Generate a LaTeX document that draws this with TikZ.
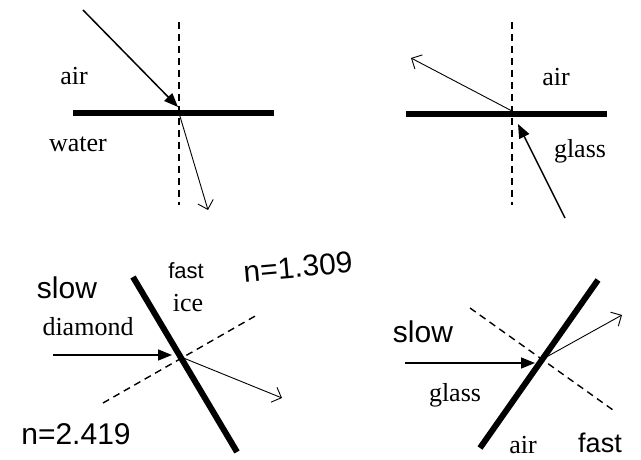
\documentclass[tikz,border=0pt]{standalone}
\usepackage{fontspec}
\setmainfont{Liberation Serif}
\newfontfamily\handfont{Liberation Sans}
\usetikzlibrary{arrows.meta}

\begin{document}
\begin{tikzpicture}[
        x=1pt, y=-1pt,
        every node/.style={font=\fontsize{26}{30}\selectfont, inner sep=0pt},
        hand/.style={font=\handfont\fontsize{30}{32}\selectfont},
        surface/.style={line width=6pt},
        normal/.style={line width=1.4pt, dash pattern=on 7pt off 5pt},
        inray/.style={line width=1.5pt, -{Triangle[length=14pt, width=11pt]}},
        outray/.style={line width=0.9pt, -{Straight Barb[length=8pt, width=16pt]}}
    ]
        \useasboundingbox (0,0) rectangle (641,460);

        % air -> water
        \coordinate (awIn) at (83,10);
        \coordinate (awTip) at (178,107);
        \coordinate (awHit) at (179,113);
        \coordinate (awOut) at (208,210);
        \draw[normal] (179,22) -- (179,205);
        \draw[surface] (73,113) -- (274,113);
        \draw[inray] (awIn) -- (awTip);
        \draw[outray] (awHit) -- (awOut);
        \node (awTop) at (74,76) {air};
        \node (awBot) at (78,144) {water};

        % glass -> air
        \coordinate (gaIn) at (565,218);
        \coordinate (gaTip) at (518,124);
        \coordinate (gaHit) at (512,111);
        \coordinate (gaOut) at (411,58);
        \draw[normal] (512,22) -- (512,205);
        \draw[surface] (406,114) -- (607,114);
        \draw[inray] (gaIn) -- (gaTip);
        \draw[outray] (gaHit) -- (gaOut);
        \node (gaTop) at (556,77) {air};
        \node (gaBot) at (580,151) {glass};

        % diamond -> ice
        \coordinate (diIn) at (53,355);
        \coordinate (diTip) at (172,355);
        \coordinate (diHit) at (181,357);
        \coordinate (diOut) at (282,398);
        \draw[normal] (103,403) -- (257,315);
        \draw[surface] (133,277) -- (237,452);
        \draw[inray] (diIn) -- (diTip);
        \draw[outray] (diHit) -- (diOut);
        \node (diLeft) at (88,327) {diamond};
        \node (diRight) at (188,303) {ice};
        \node[hand] (diSlow) at (67,288) {slow};
        \node[hand, font=\handfont\fontsize{22}{24}\selectfont] (diFast) at (186,271) {fast};
        \node[hand, rotate=5] (diNIce) at (298,267) {n=1.309};
        \node[hand] (diNDia) at (76,434) {n=2.419};

        % glass -> air, tilted
        \coordinate (tgIn) at (405,363);
        \coordinate (tgTip) at (535,363);
        \coordinate (tgHit) at (541,360);
        \coordinate (tgOut) at (622,315);
        \draw[normal] (470,308) -- (613,410);
        \draw[surface] (480,448) -- (598,280);
        \draw[inray] (tgIn) -- (tgTip);
        \draw[outray] (tgHit) -- (tgOut);
        \node (tgLeft) at (455,395) {glass};
        \node (tgRight) at (523,445) {air};
        \node[hand] (tgSlow) at (423,332) {slow};
        \node[hand, font=\handfont\fontsize{27}{29}\selectfont] (tgFast) at (600,443) {fast};
    \end{tikzpicture}
\end{document}
